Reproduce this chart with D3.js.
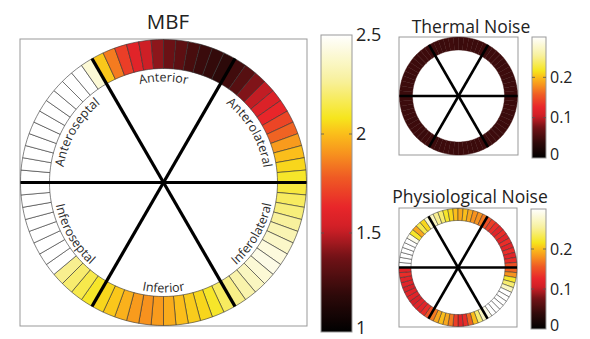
<!DOCTYPE html>
<html><head><meta charset="utf-8">
<script src="https://cdn.jsdelivr.net/npm/d3@7"></script>
<style>
html,body{margin:0;padding:0;background:#fff;}
svg{display:block;font-family:"Open Sans","Noto Sans",sans-serif;}
</style></head>
<body><svg id="c" width="590" height="339"></svg>
<script>
// ---- data (72 segments, 5° each, clockwise starting at the anterior/anteroseptal border) ----
const sectorLabels = ["Anterior","Anterolateral","Inferolateral","Inferior","Inferoseptal","Anteroseptal"];
const mbfValues = [
  // Anterior
  2.02,1.85,1.70,1.60,1.52,1.42,1.36,1.32,1.26,1.22,1.20,1.18,
  // Anterolateral
  1.24,1.30,1.40,1.50,1.57,1.63,1.72,1.80,1.92,2.00,2.05,2.10,
  // Inferolateral
  2.13,2.18,2.22,2.27,2.32,2.37,2.42,2.44,2.40,2.35,2.30,2.24,
  // Inferior
  2.18,2.10,2.05,2.03,2.00,1.96,1.92,1.90,1.92,1.97,2.02,2.05,
  // Inferoseptal
  2.10,2.15,2.20,2.25,2.50,2.50,2.50,2.50,2.50,2.50,2.50,2.50,
  // Anteroseptal
  2.50,2.50,2.50,2.50,2.50,2.50,2.50,2.50,2.50,2.50,2.50,2.40
];
const thermalValues = [
  0.045,0.046,0.044,0.045,0.047,0.045,0.044,0.046,0.045,0.044,0.045,0.046,
  0.044,0.045,0.046,0.045,0.044,0.045,0.046,0.045,0.044,0.045,0.046,0.045,
  0.045,0.044,0.046,0.045,0.044,0.046,0.045,0.045,0.044,0.046,0.045,0.044,
  0.046,0.045,0.044,0.045,0.046,0.045,0.044,0.045,0.046,0.045,0.044,0.045,
  0.045,0.046,0.044,0.045,0.046,0.045,0.044,0.046,0.045,0.044,0.045,0.046,
  0.044,0.045,0.046,0.045,0.044,0.045,0.046,0.045,0.044,0.045,0.046,0.045
];
const physioValues = [
  0.27,0.25,0.24,0.22,0.21,0.20,0.19,0.20,0.19,0.18,0.18,0.17,
  0.15,0.14,0.13,0.12,0.13,0.12,0.13,0.12,0.13,0.12,0.13,0.15,
  0.16,0.18,0.22,0.24,0.27,0.30,0.30,0.30,0.30,0.30,0.30,0.29,
  0.27,0.24,0.20,0.16,0.13,0.12,0.14,0.17,0.19,0.20,0.19,0.17,
  0.15,0.13,0.12,0.12,0.11,0.12,0.12,0.11,0.12,0.12,0.13,0.12,
  0.30,0.30,0.30,0.30,0.30,0.30,0.29,0.22,0.19,0.23,0.21,0.28
];
const mbfTicks = [1, 1.5, 2, 2.5];
const noiseTicks = [0, 0.1, 0.2];
const mbfDomain = [1, 2.5];
const noiseDomain = [0, 0.3];
const titles = ["MBF", "Thermal Noise", "Physiological Noise"];

// ---- colormap (hot-like) ----
const cmT = [0, 0.12, 0.25, 0.35, 0.42, 0.52, 0.60, 0.67, 0.72, 0.85, 1];
const cmC = ["#000000","#2c0909","#701216","#d11f27","#e8262a","#ef5a24","#f7921e","#fbc01b","#f6e51d","#f8f1a0","#ffffff"];
const cmap = d3.scaleLinear().domain(cmT).range(cmC).clamp(true);

const svg = d3.select("#c");
const rad = Math.PI/180;
const nSeg = 72;
const angle = d3.scaleLinear().domain([0, nSeg]).range([330*rad, 690*rad]);

function polar(g, cfg){
  const {cx, cy, ro, ri, values, domain, spokeW, segStroke, labels} = cfg;
  const norm = d3.scaleLinear().domain(domain).range([0,1]);
  const G = g.append("g").attr("transform", `translate(${cx},${cy})`);
  const arc = d3.arc().innerRadius(ri).outerRadius(ro);
  G.selectAll("path.seg").data(values).join("path")
    .attr("class","seg")
    .attr("d", (v,i) => arc({startAngle: angle(i), endAngle: angle(i+1)}))
    .attr("fill", v => cmap(norm(v)))
    .attr("stroke", segStroke).attr("stroke-width", cfg.segW);
  // spokes
  [30,150,210,330].forEach(b => {
    G.append("line").attr("x1",0).attr("y1",0)
      .attr("x2", ro*Math.sin(b*rad)).attr("y2", -ro*Math.cos(b*rad))
      .attr("stroke","#000").attr("stroke-width", spokeW);
  });
  G.append("line").attr("x1",-ro).attr("x2",ro).attr("y1",0).attr("y2",0)
    .attr("stroke","#000").attr("stroke-width", spokeW);
  if(labels){
    labels.forEach((lab, k) => {
      const b = k*60; // sector centre bearing
      const upper = (b <= 60 || b >= 300);
      const r = upper ? cfg.rUp : cfg.rLow;
      const a0 = (b-30)*rad, a1 = (b+30)*rad;
      const p = d3.path();
      if(upper){
        p.moveTo(r*Math.sin(a0), -r*Math.cos(a0));
        p.arc(0,0,r,a0-Math.PI/2,a1-Math.PI/2,false);
      } else {
        p.moveTo(r*Math.sin(a1), -r*Math.cos(a1));
        p.arc(0,0,r,a1-Math.PI/2,a0-Math.PI/2,true);
      }
      const id = "lp"+k;
      G.append("path").attr("id",id).attr("d",p.toString()).attr("fill","none");
      G.append("text").attr("font-size",12.5).attr("fill","#2a2a2a")
        .append("textPath").attr("href","#"+id).attr("startOffset","50%")
        .attr("text-anchor","middle").text(lab);
    });
  }
}

function box(x0,y0,x1,y1){
  svg.append("rect").attr("x",x0).attr("y",y0).attr("width",x1-x0).attr("height",y1-y0)
    .attr("fill","none").attr("stroke","#999").attr("stroke-width",1);
}

function colorbar(id, x0, x1, y0, y1, domain, ticks, fs, fmt){
  const grad = svg.append("defs").append("linearGradient").attr("id",id)
    .attr("x1",0).attr("y1",1).attr("x2",0).attr("y2",0);
  d3.range(0,1.0001,0.02).forEach(t => grad.append("stop").attr("offset",t).attr("stop-color",cmap(t)));
  svg.append("rect").attr("x",x0).attr("y",y0).attr("width",x1-x0).attr("height",y1-y0)
    .attr("fill",`url(#${id})`).attr("stroke","#999").attr("stroke-width",1);
  const y = d3.scaleLinear().domain(domain).range([y1,y0]);
  const ax = d3.axisRight(y).tickValues(ticks).tickSize(0).tickPadding(4).tickFormat(fmt);
  const ag = svg.append("g").attr("transform",`translate(${x1},0)`).call(ax);
  ag.select(".domain").remove();
  ag.selectAll("text").attr("font-size",fs).attr("fill","#222").attr("font-family",'"Open Sans","Noto Sans",sans-serif');
  // keep the lowest label inside the picture
  ag.selectAll(".tick").filter(d => d === domain[0]).select("text").attr("dy","0.1em");
  ticks.forEach(t => {
    if(y(t) > y0+2 && y(t) < y1-2){
      svg.append("line").attr("x1",x0).attr("x2",x0+3).attr("y1",y(t)).attr("y2",y(t)).attr("stroke","#555").attr("stroke-width",0.8);
      svg.append("line").attr("x1",x1-3).attr("x2",x1).attr("y1",y(t)).attr("y2",y(t)).attr("stroke","#555").attr("stroke-width",0.8);
    }
  });
}

// ---- MBF ----
box(20,39,307,326);
polar(svg, {cx:163.5, cy:182.5, ro:143, ri:114, values:mbfValues, domain:mbfDomain,
  spokeW:3.2, segStroke:"#333", segW:0.6, labels:sectorLabels, rUp:101, rLow:110});
svg.append("text").attr("x",168).attr("y",29).attr("text-anchor","middle")
  .attr("font-size",20.5).attr("fill","#222").text(titles[0]);
colorbar("g1", 321, 352, 35, 332, mbfDomain, mbfTicks, 18, d3.format("~g"));

// ---- Thermal noise ----
box(399,37,518,155);
polar(svg, {cx:458.5, cy:96, ro:59, ri:46, values:thermalValues, domain:noiseDomain,
  spokeW:2.6, segStroke:"#3a0c0c", segW:0.4});
svg.append("text").attr("x",471).attr("y",33).attr("text-anchor","middle")
  .attr("font-size",17.5).attr("fill","#222").text(titles[1]);
colorbar("g2", 532, 546, 37, 158, noiseDomain, noiseTicks, 16, d3.format("~g"));

// ---- Physiological noise ----
box(399,208,517,327);
polar(svg, {cx:458, cy:267.5, ro:59, ri:47, values:physioValues, domain:noiseDomain,
  spokeW:2.6, segStroke:"#333", segW:0.5});
svg.append("text").attr("x",470).attr("y",203).attr("text-anchor","middle")
  .attr("font-size",17.5).attr("fill","#222").text(titles[2]);
colorbar("g3", 531, 546, 209, 329, noiseDomain, noiseTicks, 16, d3.format("~g"));
</script></body></html>
